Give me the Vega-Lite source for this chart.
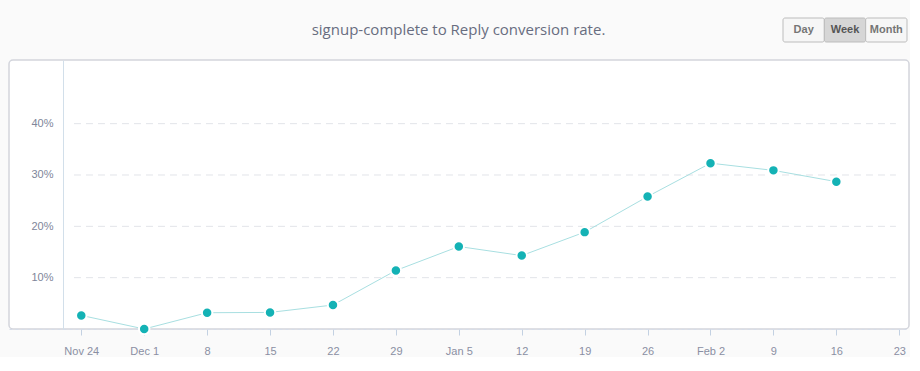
{
  "$schema": "https://vega.github.io/schema/vega-lite/v6.json",
  "background": "#fafafa",
  "padding": {"left": 8, "top": 17, "right": 0, "bottom": 0},
  "config": {
    "font": "Liberation Sans",
    "concat": {"spacing": 0}
  },
  "vconcat": [
    {
      "hconcat": [
        {
          "width": 126,
          "height": 24,
          "view": {"stroke": null},
          "data": {"values": [{"t": ""}]},
          "mark": {"type": "text"},
          "encoding": {"text": {"field": "t"}}
        },
        {
          "width": 647,
          "height": 24,
          "view": {"stroke": null},
          "data": {"values": [{"t": "signup-complete to Reply conversion rate."}]},
          "mark": {"type": "text", "font": "Open Sans", "fontSize": 15, "color": "#686d80", "align": "center", "baseline": "middle"},
          "encoding": {"text": {"field": "t"}}
        },
        {
          "width": 124,
          "height": 24,
          "view": {"stroke": null},
          "data": {"values": [
            {"b": "Day", "sel": 0},
            {"b": "Week", "sel": 1},
            {"b": "Month", "sel": 0}
          ]},
          "layer": [
            {
              "mark": {"type": "rect", "stroke": "#bcbcbc", "strokeWidth": 1, "cornerRadius": 2},
              "encoding": {
                "x": {"field": "b", "type": "nominal", "sort": null, "axis": null, "scale": {"paddingInner": 0, "paddingOuter": 0}},
                "fill": {"field": "sel", "type": "nominal", "legend": null, "scale": {"domain": [0, 1], "range": ["#f6f6f6", "#d6d6d6"]}}
              }
            },
            {
              "mark": {"type": "text", "fontSize": 11, "color": "#555555", "baseline": "middle", "fontWeight": "bold"},
              "encoding": {
                "x": {"field": "b", "type": "nominal", "sort": null, "axis": null},
                "text": {"field": "b"},
                "opacity": {"field": "sel", "type": "quantitative", "legend": null, "scale": {"domain": [0, 1], "range": [0.8, 1]}}
              }
            }
          ]
        }
      ]
    },
    {
      "width": 900,
      "height": 269,
      "view": {"fill": "#ffffff", "stroke": "#d3d5dc", "strokeWidth": 1.5, "cornerRadius": 4},
      "layer": [
        {
          "data": {"values": [{"g": 0.1}, {"g": 0.2}, {"g": 0.3}, {"g": 0.4}]},
          "mark": {"type": "rule", "stroke": "#e2e4e9", "strokeWidth": 1, "strokeDash": [7, 5]},
          "encoding": {
            "y": {"field": "g", "type": "quantitative"},
            "x": {"datum": {"year": 2013, "month": 11, "date": 23, "hours": 4, "minutes": 30, "utc": true}, "type": "temporal"},
            "x2": {"datum": {"year": 2014, "month": 2, "date": 22, "hours": 15, "utc": true}}
          }
        },
        {
          "data": {"name": "series"},
          "mark": {"type": "line", "stroke": "#a8dfe1", "strokeWidth": 1},
          "encoding": {
            "x": {"field": "week", "type": "temporal"},
            "y": {"field": "rate", "type": "quantitative"}
          }
        },
        {
          "data": {"name": "series"},
          "mark": {"type": "point", "filled": true, "fill": "#14b2b5", "stroke": "#ffffff", "strokeWidth": 2, "strokeOpacity": 1, "opacity": 1, "size": 110},
          "encoding": {
            "x": {"field": "week", "type": "temporal"},
            "y": {"field": "rate", "type": "quantitative"}
          }
        }
      ],
      "encoding": {
        "x": {
          "type": "temporal",
          "scale": {
            "type": "utc",
            "domain": [
              {"year": 2013, "month": 11, "date": 15, "hours": 23, "utc": true},
              {"year": 2014, "month": 2, "date": 24, "hours": 2, "utc": true}
            ]
          },
          "axis": {
            "title": null,
            "grid": false,
            "domain": true,
            "domainColor": "#d6dde8",
            "domainDash": [3, 3],
            "ticks": true,
            "tickColor": "#c3d1e2",
            "tickSize": 6,
            "labelFontSize": 11,
            "labelColor": "#8a8fa3",
            "labelPadding": 10,
            "values": [
              {"year": 2013, "month": 11, "date": 24, "utc": true},
              {"year": 2013, "month": 12, "date": 1, "utc": true},
              {"year": 2013, "month": 12, "date": 8, "utc": true},
              {"year": 2013, "month": 12, "date": 15, "utc": true},
              {"year": 2013, "month": 12, "date": 22, "utc": true},
              {"year": 2013, "month": 12, "date": 29, "utc": true},
              {"year": 2014, "month": 1, "date": 5, "utc": true},
              {"year": 2014, "month": 1, "date": 12, "utc": true},
              {"year": 2014, "month": 1, "date": 19, "utc": true},
              {"year": 2014, "month": 1, "date": 26, "utc": true},
              {"year": 2014, "month": 2, "date": 2, "utc": true},
              {"year": 2014, "month": 2, "date": 9, "utc": true},
              {"year": 2014, "month": 2, "date": 16, "utc": true},
              {"year": 2014, "month": 2, "date": 23, "utc": true}
            ],
            "labelExpr": "(utcdate(datum.value) <= 7 || utcmonth(datum.value) == 10) ? utcFormat(datum.value, '%b %-d') : utcFormat(datum.value, '%-d')"
          }
        },
        "y": {
          "type": "quantitative",
          "scale": {"domain": [0, 0.524], "nice": false, "zero": true},
          "axis": {
            "title": null,
            "grid": false,
            "offset": -54,
            "domain": true,
            "domainColor": "#d2dfea",
            "domainWidth": 1,
            "ticks": false,
            "values": [0.1, 0.2, 0.3, 0.4],
            "format": ".0%",
            "labelFontSize": 11,
            "labelColor": "#80869a",
            "labelPadding": 10
          }
        }
      }
    }
  ],
  "spacing": 16,
  "datasets": {
    "series": [
      {"week": "2013-11-24", "rate": 0.0265},
      {"week": "2013-12-01", "rate": 0.0},
      {"week": "2013-12-08", "rate": 0.0317},
      {"week": "2013-12-15", "rate": 0.0323},
      {"week": "2013-12-22", "rate": 0.0467},
      {"week": "2013-12-29", "rate": 0.114},
      {"week": "2014-01-05", "rate": 0.1607},
      {"week": "2014-01-12", "rate": 0.143},
      {"week": "2014-01-19", "rate": 0.1887},
      {"week": "2014-01-26", "rate": 0.258},
      {"week": "2014-02-02", "rate": 0.323},
      {"week": "2014-02-09", "rate": 0.309},
      {"week": "2014-02-16", "rate": 0.287}
    ]
  }
}
